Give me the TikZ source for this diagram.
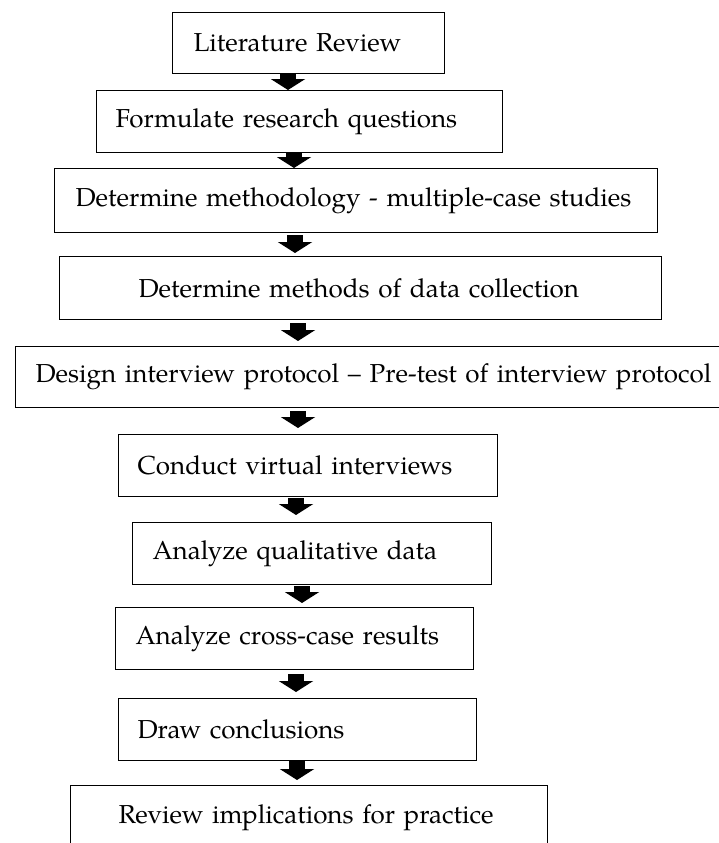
\documentclass[tikz,border=0pt]{standalone}
\usepackage{fontspec}
\setmainfont{TeX Gyre Pagella}
\usetikzlibrary{arrows.meta}
\tikzset{
  stepbox/.style={draw=black, line width=1pt, anchor=north west, inner ysep=0pt,
    align=left, font=\fontsize{26}{30}\selectfont},
  blk/.style={line width=16pt, -{Triangle[length=11pt,width=34pt]}}
}
\newcommand{\stepnode}[7]{% name, x1, y1, x2, y2, pad, text
  \pgfmathsetmacro{\bw}{#4-#2}\pgfmathsetmacro{\bh}{#5-#3}\pgfmathsetmacro{\tw}{#4-#2-2*#6}
  \node[stepbox, minimum width=\bw pt, minimum height=\bh pt, inner xsep=#6pt, text width=\tw pt] (#1) at (#2,#3) {\mbox{#7}};}
\begin{document}
\begin{tikzpicture}[x=1pt,y=-1pt]
\useasboundingbox (0,0) rectangle (718,843);
\stepnode{b1}{172}{12}{444}{73}{21}{Literature Review}
\stepnode{b2}{96}{90}{502}{152}{19}{Formulate research questions}
\stepnode{b3}{54}{168}{657}{232}{21}{Determine methodology - multiple-case studies}
\stepnode{b4}{59}{256}{661}{319}{79}{Determine methods of data collection}
\stepnode{b5}{15}{346}{728}{407}{20}{Design interview protocol -- Pre-test of interview protocol}
\stepnode{b6}{118}{434}{497}{496}{19}{Conduct virtual interviews}
\stepnode{b7}{132}{522}{491}{584}{20}{Analyze qualitative data}
\stepnode{b8}{115}{607}{473}{669}{20}{Analyze cross-case results}
\stepnode{b9}{118}{698}{476}{760}{19}{Draw conclusions}
\stepnode{b10}{70}{785}{547}{849}{48}{Review implications for practice}
\coordinate (a1) at (288,0);
\coordinate (a2) at (294,0);
\coordinate (a3) at (295,0);
\coordinate (a4) at (298,0);
\coordinate (a5) at (298,0);
\coordinate (a6) at (296,0);
\coordinate (a7) at (302,0);
\coordinate (a8) at (296,0);
\coordinate (a9) at (297,0);
\draw[blk] (b1.south -| a1) -- (b2.north -| a1);
\draw[blk] (b2.south -| a2) -- (b3.north -| a2);
\draw[blk, shorten <=2pt, shorten >=3pt] (b3.south -| a3) -- (b4.north -| a3);
\draw[blk, shorten <=3pt, shorten >=5pt] (b4.south -| a4) -- (b5.north -| a4);
\draw[blk, shorten <=3pt, shorten >=6pt] (b5.south -| a5) -- (b6.north -| a5);
\draw[blk, shorten <=1pt, shorten >=7pt] (b6.south -| a6) -- (b7.north -| a6);
\draw[blk, shorten <=1pt, shorten >=4pt] (b7.south -| a7) -- (b8.north -| a7);
\draw[blk, shorten <=4pt, shorten >=6pt] (b8.south -| a8) -- (b9.north -| a8);
\draw[blk, shorten >=5pt] (b9.south -| a9) -- (b10.north -| a9);
\end{tikzpicture}
\end{document}
